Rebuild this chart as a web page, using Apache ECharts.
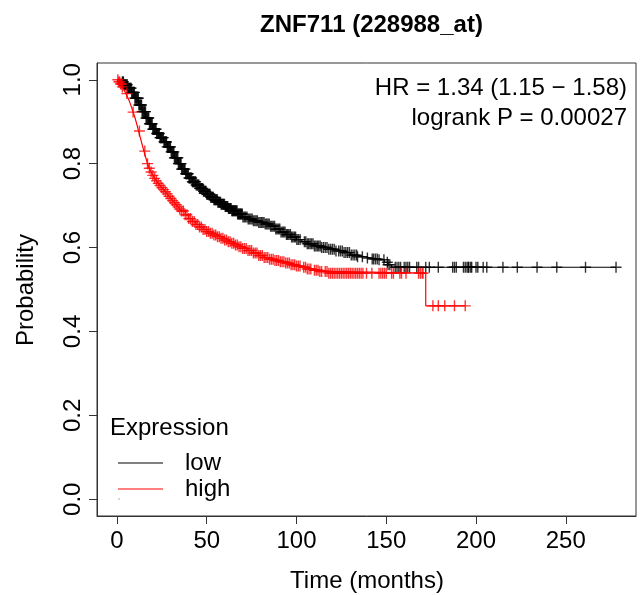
<!DOCTYPE html>
<html>
<head>
<meta charset="utf-8">
<script src="https://cdn.jsdelivr.net/npm/echarts@6/dist/echarts.min.js"></script>
<style>
html,body{margin:0;padding:0;background:#fff;}
#chart{width:642px;height:595px;}
</style>
</head>
<body>
<div id="chart"></div>
<script>
// ---- data ----
const chartTitle = "ZNF711 (228988_at)";
const xTicks = [0, 50, 100, 150, 200, 250];
const yTicks = [0, 0.2, 0.4, 0.6, 0.8, 1.0];
const statLines = ["HR = 1.34 (1.15 \u2212 1.58)", "logrank P = 0.00027"];
const groupNames = ["low", "high"];

// Kaplan-Meier step points: low expression
const lowTime = [0,2,4,6,8,10,12,14,16,18,20,22,24,26,28,30,32,34,36,38,40,42,44,46,48,50,52,54,56,58,60,62,64,67,70,73,76,79,82,85,88,91,94,97,100,103,106,110,114,118,122,126,130,134,138,142,146,149,151,153,278];
const lowSurv = [1.0,0.995,0.988,0.98,0.97,0.956,0.94,0.924,0.909,0.895,0.882,0.872,0.862,0.852,0.84,0.828,0.814,0.8,0.787,0.776,0.766,0.757,0.749,0.741,0.734,0.727,0.72,0.714,0.708,0.703,0.698,0.693,0.688,0.68,0.673,0.668,0.664,0.66,0.656,0.651,0.644,0.637,0.631,0.625,0.619,0.614,0.609,0.604,0.6,0.596,0.592,0.588,0.582,0.578,0.575,0.573,0.571,0.565,0.559,0.553,0.553];
// censoring times: low
const lowCensor = [3,3.3,3.6,4,4.3,4.7,5,5.4,5.7,6,6.4,6.8,7.1,7.5,7.9,8.2,8.6,9,9.3,9.7,10,10.4,10.8,11.1,11.5,11.9,12.2,12.6,13,13.3,13.7,14,14.4,14.8,15.2,15.5,15.9,16.2,16.6,17,17.4,17.7,18.1,18.5,18.8,19.2,19.6,20,20.3,20.7,21,21.4,21.8,22.1,22.5,22.9,23.2,23.6,24,24.3,24.7,25,25.4,25.8,26.2,26.5,26.9,27.3,27.6,28,28.4,28.7,29.1,29.5,29.8,30.2,30.6,31,31.3,31.7,32,32.4,32.8,33.1,33.5,33.9,34.2,34.6,35,35.3,35.7,36,36.4,36.8,37.2,37.5,37.9,38.3,38.6,39,39.4,39.7,40.1,40.5,40.8,41.2,41.6,42,42.3,42.7,43,43.4,43.8,44.1,44.5,44.9,45.2,45.6,46,46.3,46.7,47,47.4,47.8,48.2,48.5,48.9,49.3,49.6,50,50.4,50.7,51.1,51.5,51.8,52.2,52.6,53,53.3,53.7,54,54.4,54.8,55.1,55.5,55.9,56.2,56.6,57,57.3,57.7,58,58.4,58.8,59.2,59.5,59.9,60.3,60.6,61,61.4,61.7,62.1,62.5,62.8,63.2,63.6,64,64.3,64.7,65,65.4,65.8,66.1,66.5,66.9,67.2,67.6,68,68.3,68.7,69,69.4,69.8,70.2,70.9,71.6,72.4,73.1,73.8,74.6,75.3,76,76.8,77.5,78.2,79,79.7,80.4,81.2,81.9,82.6,83.4,84.1,84.8,85.6,86.3,87,87.8,88.5,89.2,90,90.7,91.4,92.2,92.9,93.6,94.4,95.1,95.8,96.6,97.3,98,98.8,99.5,100.2,101,102,104.4,105.2,106,106.8,107.6,108.4,109.2,110,110.8,111.6,112.4,113.2,114,115,116,117,118,119,120,121,122,123.5,124.5,125.5,126.5,127.5,128.5,129.5,130.5,131.5,132.5,133.5,134,136.7,139.5,142.2,143,144,145,146,148.7,150.6,151,152,155,156,157,158,160,161,162,163,167,168,172,174,179,187,188,189,193,194,195,195.7,196,197,197.6,200,201,204,206,215,223,234,245,261,278];

// Kaplan-Meier step points: high expression
const highTime = [0,1,2,3,4,5,6,7,8,9,10,11,12,13,14,15,16,17,18,19,20,21,22,23,24,25,26,27,28,29,30,31,32,33,34,35,36,38,40,42,44,46,48,50,52,54,56,58,60,62,64,66,68,70,73,76,79,82,85,88,91,94,97,100,103,106,109,113,118,172,194];
const highSurv = [1.0,0.995,0.99,0.983,0.975,0.967,0.958,0.948,0.936,0.923,0.91,0.895,0.878,0.862,0.846,0.83,0.815,0.8,0.789,0.78,0.772,0.765,0.759,0.753,0.748,0.743,0.738,0.733,0.728,0.722,0.717,0.712,0.707,0.702,0.697,0.692,0.687,0.678,0.669,0.662,0.655,0.649,0.643,0.638,0.634,0.63,0.626,0.622,0.618,0.614,0.61,0.606,0.602,0.598,0.593,0.587,0.581,0.576,0.572,0.569,0.566,0.563,0.559,0.556,0.553,0.549,0.546,0.543,0.539,0.461,0.461];
// censoring times: high
const highCensor = [0.5,1,1.5,2,2.5,3,5.5,9,12.5,15.5,17,18,19,20,21,22,23,24,25,26,27,28,29,30,31,32,33,34,35,36,37,38,39,40,41,42,43,44,45,46,47,48,49,50,51,52,53,54,55,56,57,58,59,60,61,62,63,64,65,66,67,68,69,70,71,72,73,74,75,76,77,78,79,80,81,82,83,84,85,86,87,88,89,90,91,92,93,94,95,96,97,98,99,100,101,102,104,105,106,107,108,110,111,112,113,114,116,117,118,119,120,121,122,123,124,125,126,127,128,129,130,131,132,133,134,135,136,137,139,142,146,147,148,149,150,153,154,157.6,158.5,161,168,169,170,170.5,176,179,182.6,188,194];

// ---- helpers ----
function stepPoints(times, surv) {
  return times.map((t, i) => [t, surv[i]]);
}
function survAt(times, surv, t) {
  let s = surv[0];
  for (let i = 0; i < times.length; i++) {
    if (times[i] <= t) s = surv[i]; else break;
  }
  return s;
}
function censorPoints(times, surv, cens) {
  return cens.map(t => [t, survAt(times, surv, t)]);
}

const FONT = "'Liberation Sans', Arial, Helvetica, sans-serif";
const PLUS = 'path://M0,5L10,5M5,0L5,10';

const chart = echarts.init(document.getElementById('chart'), null, {renderer: 'canvas'});
const option = {
  animation: false,
  backgroundColor: '#ffffff',
  textStyle: {fontFamily: FONT},
  title: {
    text: chartTitle,
    left: 366.5, top: 8,
    textAlign: 'center',
    textStyle: {fontFamily: FONT, fontSize: 24, fontWeight: 'bold', color: '#000'}
  },
  grid: {
    left: 97, right: 6, top: 63, bottom: 79,
    show: true, borderColor: '#333', borderWidth: 1, backgroundColor: 'transparent',
    containLabel: false
  },
  xAxis: {
    type: 'value', min: -11.12, max: 289.12,
    axisLine: {show: true, onZero: false, lineStyle: {color: '#333', width: 1}},
    axisTick: {show: true, length: 8, lineStyle: {color: '#333'}, customValues: xTicks},
    axisLabel: {show: true, fontSize: 24, color: '#000', fontFamily: FONT, margin: 13, customValues: xTicks},
    splitLine: {show: false}
  },
  yAxis: {
    type: 'value', min: -0.04, max: 1.04,
    axisLine: {show: true, onZero: false, lineStyle: {color: '#333', width: 1}},
    axisTick: {show: true, length: 8, lineStyle: {color: '#333'}, customValues: yTicks},
    axisLabel: {show: true, fontSize: 24, color: '#000', fontFamily: FONT, margin: 12, rotate: 90,
      customValues: yTicks, formatter: v => v.toFixed(1)},
    splitLine: {show: false}
  },
  series: [
    {
      name: groupNames[0], type: 'line', step: 'end', showSymbol: false,
      lineStyle: {color: '#000', width: 1.2},
      data: stepPoints(lowTime, lowSurv), z: 2
    },
    {
      name: groupNames[0] + ' censored', type: 'scatter', symbol: PLUS, symbolSize: 11,
      itemStyle: {color: 'rgba(0,0,0,0)', borderColor: '#000', borderWidth: 1.4},
      data: censorPoints(lowTime, lowSurv, lowCensor), z: 2
    },
    {
      name: groupNames[1], type: 'line', step: 'end', showSymbol: false,
      lineStyle: {color: '#ff0000', width: 1.2},
      data: stepPoints(highTime, highSurv), z: 3
    },
    {
      name: groupNames[1] + ' censored', type: 'scatter', symbol: PLUS, symbolSize: 11,
      itemStyle: {color: 'rgba(0,0,0,0)', borderColor: '#ff0000', borderWidth: 1.4},
      data: censorPoints(highTime, highSurv, highCensor), z: 3
    }
  ],
  graphic: [
    {type: 'text', x: 627, y: 88, style: {text: statLines[0], font: '24px ' + FONT, fill: '#000', align: 'right', verticalAlign: 'middle'}},
    {type: 'text', x: 627, y: 118, style: {text: statLines[1], font: '24px ' + FONT, fill: '#000', align: 'right', verticalAlign: 'middle'}},
    {type: 'text', x: 110, y: 428, style: {text: 'Expression', font: '24px ' + FONT, fill: '#000', align: 'left', verticalAlign: 'middle'}},
    {type: 'line', shape: {x1: 118, y1: 463, x2: 163, y2: 463}, style: {stroke: '#000', lineWidth: 1}},
    {type: 'line', shape: {x1: 118, y1: 489, x2: 163, y2: 489}, style: {stroke: '#ff0000', lineWidth: 1}},
    {type: 'text', x: 185, y: 463, style: {text: groupNames[0], font: '24px ' + FONT, fill: '#000', align: 'left', verticalAlign: 'middle'}},
    {type: 'text', x: 185, y: 489, style: {text: groupNames[1], font: '24px ' + FONT, fill: '#000', align: 'left', verticalAlign: 'middle'}},
    {type: 'rect', shape: {x: 118.5, y: 498.5, width: 1, height: 1}, style: {fill: '#666'}},
    {type: 'text', x: 367, y: 581, style: {text: 'Time (months)', font: '24px ' + FONT, fill: '#000', align: 'center', verticalAlign: 'middle'}},
    {type: 'text', x: 26, y: 290, rotation: Math.PI / 2, style: {text: 'Probability', font: '24px ' + FONT, fill: '#000', align: 'center', verticalAlign: 'middle'}}
  ]
};
chart.setOption(option);
</script>
</body>
</html>
